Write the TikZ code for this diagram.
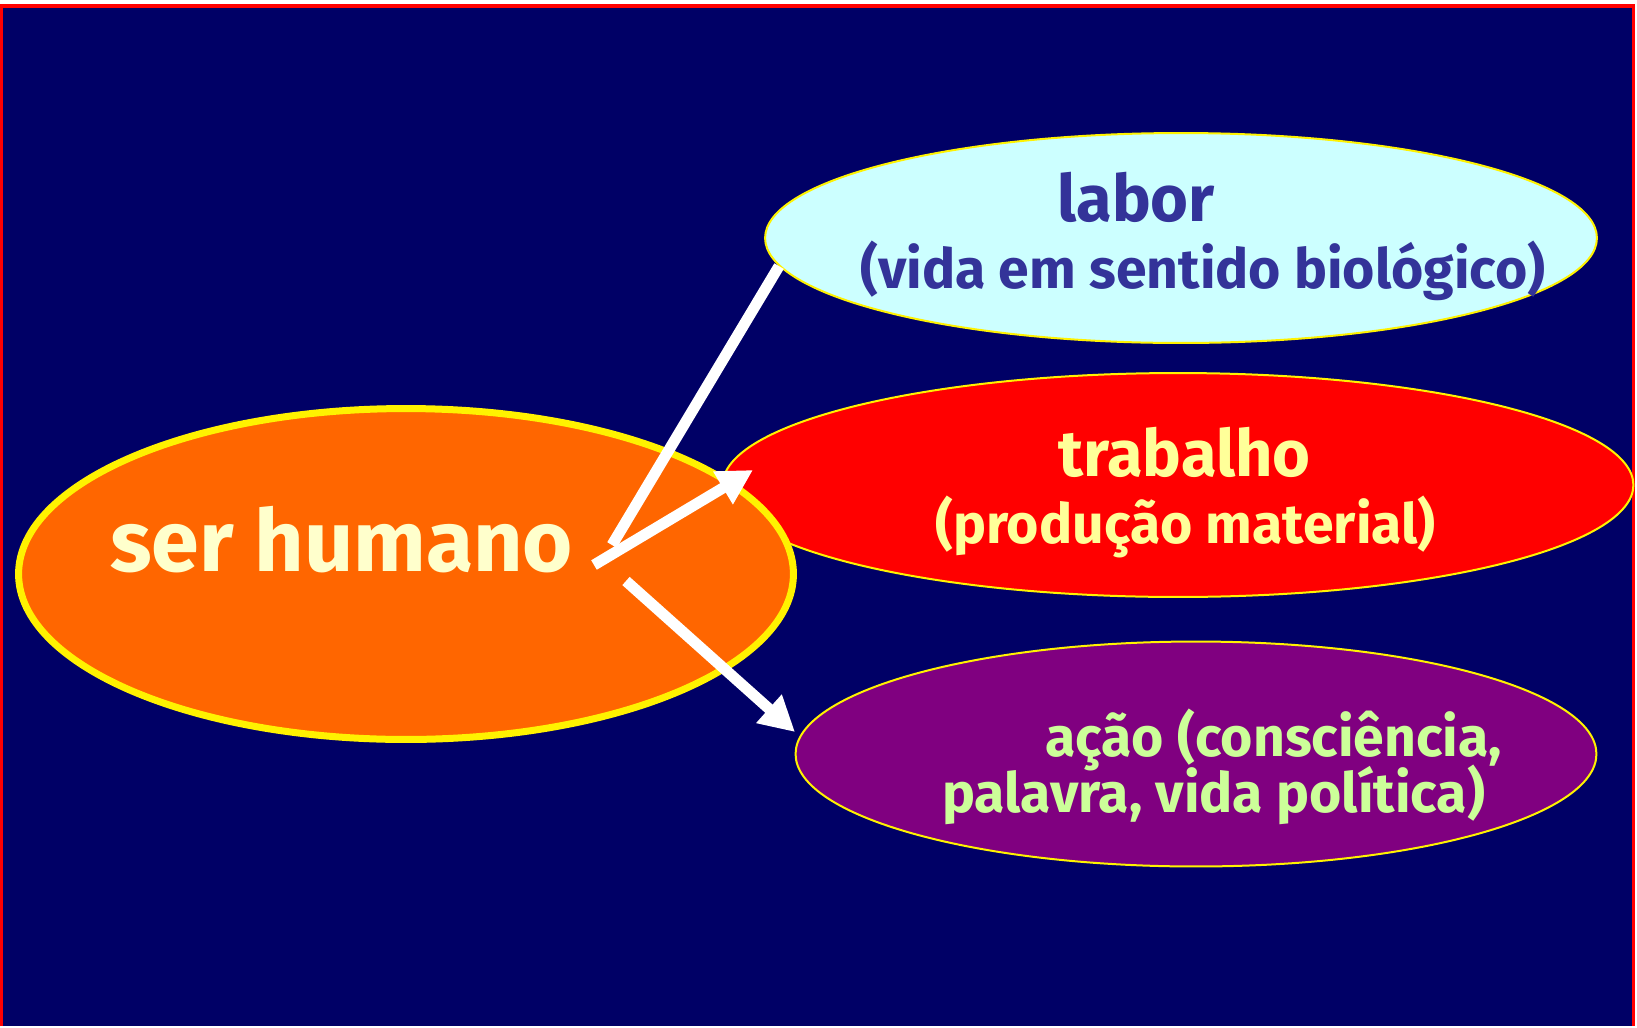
\documentclass[tikz,border=0pt]{standalone}
\usepackage{fontspec}
\setmainfont{Fira Sans}
\usetikzlibrary{arrows.meta, shapes.geometric}

\definecolor{fundo}{RGB}{0,0,102}
\definecolor{laranja}{RGB}{255,102,0}
\definecolor{creme}{RGB}{255,255,204}
\definecolor{ciano}{RGB}{204,255,255}
\definecolor{anil}{RGB}{51,51,153}
\definecolor{amarelo}{RGB}{255,255,153}
\definecolor{roxo}{RGB}{128,0,128}
\definecolor{verde}{RGB}{204,255,153}

\begin{document}
\begin{tikzpicture}[
    x=0.02cm, y=-0.02cm,
    bolha/.style={
        ellipse,
        draw=yellow,
        line width=0.04cm,
        inner sep=0pt,
    },
    texto/.style={
        anchor=base west,
        inner sep=0pt,
        font=\bfseries\fontsize{31.5}{38}\selectfont,
    },
    seta/.style={
        white,
        line width=0.22cm,
        -{Triangle[length=0.7cm, width=0.72cm]},
    },
    linha/.style={
        white,
        line width=0.22cm,
    }
]
    % Background
    \fill[white] (0,0) rectangle (1637,1026);
    \fill[fundo] (0,4) rectangle (1635,1026);
    \draw[red, line width=0.07cm] (1.75,1026) -- (1.75,5.75) -- (1633.25,5.75) -- (1633.25,1026);

    % Ellipses
    \node[bolha, fill=red, minimum width=18.22cm, minimum height=4.48cm] (trabalho) at (1178,485) {};
    \node[bolha, fill=laranja, line width=0.14cm, minimum width=15.5cm, minimum height=6.62cm] (humano) at (406,574) {};
    \node[bolha, fill=ciano, minimum width=16.64cm, minimum height=4.2cm] (labor) at (1181,238) {};
    \node[bolha, fill=roxo, minimum width=16.02cm, minimum height=4.5cm] (acao) at (1196,754) {};

    % Texts
    \node[texto, creme, font=\bfseries\fontsize{49}{59}\selectfont] (txthumano) at (110,571) {ser humano};
    \node[texto, anil, font=\bfseries\fontsize{37}{44}\selectfont] (txtlabor) at (1057,221) {labor};
    \node[texto, anil] (txtvida) at (860,288) {(vida em sentido biológico)};
    \node[texto, amarelo, font=\bfseries\fontsize{37}{44}\selectfont] (txttrabalho) at (1058,476) {trabalho};
    \node[texto, amarelo] (txtproducao) at (935,543) {(produção material)};
    \node[texto, verde, align=left] (txtacao) at (942,812)
        {\hspace{2.06cm}ação (consciência,\\[-6.2pt]palavra, vida política)};

    % Arrows
    \coordinate (base1) at (612,545);
    \coordinate (base2) at (594,565);
    \coordinate (alvo2) at (753,470);
    \coordinate (base3) at (626,581);
    \coordinate (alvo3) at (795,732);
    \draw[linha] (base1) -- (labor.184);
    \draw[seta] (base2) -- (alvo2);
    \draw[seta] (base3) -- (alvo3);
\end{tikzpicture}
\end{document}
